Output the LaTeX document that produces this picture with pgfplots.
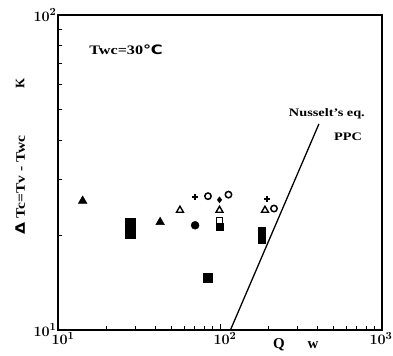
\documentclass[border=0pt]{standalone}
\usepackage{fontspec}
\setmainfont{Liberation Serif}
\newfontfamily\djv{DejaVu Sans}
\usepackage{pgfplots}
\pgfplotsset{compat=1.18}
\begin{document}
\begin{tikzpicture}[x=1bp,y=1bp]
\path[use as bounding box] (0,0) rectangle (393,356);
\begin{axis}[
  at={(58bp,26bp)}, anchor=south west,
  scale only axis, width=324bp, height=315bp,
  xmode=log, ymode=log,
  xmin=10, xmax=1000, ymin=10, ymax=100,
  axis line style={line width=1.4pt},
  tick align=inside,
  xtick pos=bottom, ytick pos=left,
  xtick={10,100,1000}, ytick={10,100},
  xticklabels={$10^{1}$,$10^{2}$,\hspace*{-12bp}$10^{3}$},
  yticklabels={$10^{1}$,$10^{2}$},
  major tick length=6bp, minor tick length=4bp,
  every tick/.style={line width=0.9pt, black},
  tick label style={font=\fontsize{15}{15}\selectfont\boldmath},
  x tick label style={xshift=5bp, yshift=1bp},
  y tick label style={xshift=2bp},
  clip=false,
]
% Nusselt's equation line
\addplot[black, line width=1.3pt] coordinates {(116,10) (408,45.1)};
% filled triangles
\addplot[only marks, mark=triangle*, mark size=5bp, black] coordinates {
  (14.2,25.7) (42.7,22.0)};
% filled squares
\addplot[only marks, mark=square*, mark size=5bp, black] coordinates {
  (28.1,21.9) (28.1,20.3)};
\addplot[only marks, mark=square*, mark size=4.5bp, black] coordinates {
  (83.8,14.7)};
\addplot[only marks, mark=square*, mark size=3.6bp, black] coordinates {
  (180,20.7) (180,20.0) (180,19.4)};
\addplot[only marks, mark=square*, mark size=3.2bp, black] coordinates {
  (99.3,21.3)};
% open square
\addplot[only marks, mark=square, mark size=3.2bp, black, mark options={line width=1.2pt}] coordinates {
  (99.3,22.2)};
% filled circles
\addplot[only marks, mark=*, mark size=4bp, black] coordinates {
  (70.2,21.5)};
% open circles
\addplot[only marks, mark=o, mark size=3.2bp, black, mark options={line width=1.5pt}] coordinates {
  (84.3,26.6) (112.8,26.9) (215.4,24.3)};
% open triangles
\addplot[only marks, mark=triangle, mark size=4bp, black, mark options={line width=1.4pt}] coordinates {
  (56.6,24.0) (99.3,24.0) (189.6,24.0)};
% plus / small filled
\addplot[only marks, mark=+, mark size=3bp, black, mark options={line width=1.8pt}] coordinates {
  (70.2,26.4) (195.9,26.1)};
\addplot[only marks, mark=diamond*, mark size=3bp, black] coordinates {
  (99.3,25.9)};
% annotations
\node[font=\fontsize{13}{13}\selectfont\bfseries] at (axis cs:26.3,77.4) {\scalebox{1.25}[1]{Twc=30{\djv ℃}}};
\node[font=\fontsize{11.5}{11.5}\selectfont\bfseries] at (axis cs:457,48.5) {\scalebox{1.25}[1]{Nusselt's eq.}};
\node[font=\fontsize{11.5}{11.5}\selectfont\bfseries] at (axis cs:617,41.0) {\scalebox{1.25}[1]{PPC}};
\node[rotate=90, font=\fontsize{13}{13}\selectfont\bfseries] at (rel axis cs:-0.117,0.461) {\scalebox{1.2}[1]{{\djv\bfseries Δ} Tc=Tv - Twc}};
\node[rotate=90, font=\fontsize{13}{13}\selectfont\bfseries] at (rel axis cs:-0.117,0.784) {K};
\node[font=\fontsize{15}{15}\selectfont\bfseries] at (axis cs:231,8.95) {Q};
\node[font=\fontsize{15}{15}\selectfont\bfseries] at (axis cs:375,8.95) {w};
\end{axis}
\end{tikzpicture}
\end{document}
